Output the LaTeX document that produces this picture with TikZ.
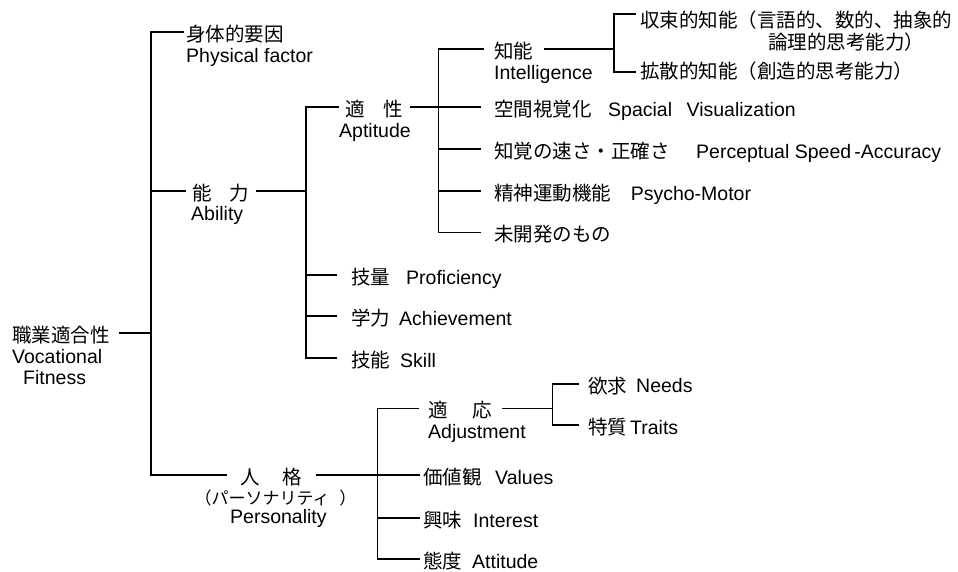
\documentclass[tikz,border=0pt]{standalone}
\usepackage{fontspec}
\setmainfont{Liberation Sans}
\newfontfamily\jpfont{Noto Sans CJK JP}
\newcommand{\tsz}{\fontsize{19.5}{23}\selectfont}
\begin{document}
\begin{tikzpicture}[x=1pt, y=-1pt,
    tree/.style={line width=1.6pt, line cap=rect},
    lbl/.style={anchor=west, inner xsep=4pt, inner ysep=0pt, text height=19pt, text depth=0pt, font=\jpfont\tsz},
    jp/.style={anchor=base west, inner sep=0pt, font=\jpfont\tsz},
    en/.style={anchor=base west, inner sep=0pt, font=\tsz}]
    \useasboundingbox (0,0) rectangle (958,571);
    % Bars of the tree
        \coordinate (A) at (151,0);
        \coordinate (B) at (306,0);
        \coordinate (C) at (438.4,0);
        \coordinate (D) at (614,0);
        \coordinate (E) at (377.5,0);
        \coordinate (F) at (552.3,0);
    % Root
        \node[lbl, inner xsep=10pt] (vf) at (2,333) {職業適合性};
        \node[en] (vf-en1) at (12,363) {Vocational};
        \node[en] (vf-en2) at (23,384) {Fitness};
    % First level
        \node[lbl, inner xsep=3pt] (phys) at (183,32) {身体的要因};
        \node[en] (phys-en) at (186,62) {Physical factor};
        \node[lbl, inner xsep=7pt] (abil) at (185,191) {能\hspace{18pt}力};
        \node[en] (abil-en) at (191,220) {Ability};
        \node[lbl, inner xsep=14pt] (pers) at (226,475) {人\hspace{23pt}格};
        \node[jp, anchor=base, font=\jpfont\fontsize{17}{20}\selectfont] (pers-kana) at (275.5,504.5) {（パーソナリティ\hspace{10pt}）};
        \node[en] (pers-en) at (230,523.3) {Personality};
    % Ability
        \node[lbl, inner xsep=7pt] (apt) at (338,107) {適\hspace{19pt}性};
        \node[en] (apt-en) at (339,137) {Aptitude};
        \node[lbl, inner xsep=15pt] (prof) at (336,275) {技量};
        \node[en] (prof-en) at (406,284) {Proficiency};
        \node[lbl, inner xsep=15pt] (ach) at (336,316) {学力};
        \node[en] (ach-en) at (399,325.3) {Achievement};
        \node[lbl, inner xsep=15pt] (skill) at (336,358) {技能};
        \node[en] (skill-en) at (400,367.3) {Skill};
    % Aptitude
        \node[lbl, inner xsep=11pt] (intel) at (483,49) {知能};
        \node[en] (intel-en) at (494,79) {Intelligence};
        \node[lbl, inner xsep=14pt] (spat) at (480,107) {空間視覚化};
        \node[en] (spat-en) at (608,116.5) {Spacial\hspace{14.5pt}Visualization};
        \node[lbl, inner xsep=14pt] (perc) at (480,149) {知覚の速さ・正確さ};
        \node[en] (perc-en) at (696,158.5) {Perceptual Speed\,-Accuracy};
        \node[lbl, inner xsep=14pt] (psy) at (480,191) {精神運動機能};
        \node[en] (psy-en) at (630.6,200.5) {Psycho-Motor};
        \node[lbl, inner xsep=14pt] (undev) at (480,232.3) {未開発のもの};
    % Intelligence
        \node[lbl, inner xsep=5pt, text height=27.8pt] (conv) at (635,14) {収束的知能（言語的、数的、抽象的};
        \node[jp] (conv-2) at (768,49) {論理的思考能力）};
        \node[lbl, inner xsep=5pt, text height=13pt] (div) at (635,71.7) {拡散的知能（創造的思考能力）};
    % Personality
        \node[lbl, inner xsep=10pt] (adj) at (418,408.3) {適\hspace{25pt}応};
        \node[en] (adj-en) at (428,438.3) {Adjustment};
        \node[lbl] (values) at (419,475) {価値観};
        \node[en] (values-en) at (495,484.5) {Values};
        \node[lbl] (interest) at (419,518) {興味};
        \node[en] (interest-en) at (473,527.5) {Interest};
        \node[lbl] (att) at (419,559) {態度};
        \node[en] (att-en) at (472,568.3) {Attitude};
    % Adjustment
        \node[lbl, inner xsep=10pt] (needs) at (578,384) {欲求};
        \node[en] (needs-en) at (636,392.5) {Needs};
        \node[lbl, inner xsep=10pt] (traits) at (578,425) {特質};
        \node[en] (traits-en) at (630,434.3) {Traits};
    % Connectors
        \draw[tree] (vf.east) -- (vf.east -| A);
        \draw[tree] (phys.west -| A) -- (pers.west -| A);
        \foreach \n in {phys,abil,pers}
            \draw[tree] (\n.west -| A) -- (\n.west);
        \draw[tree] (abil.east) -- (abil.east -| B);
        \draw[tree] (apt.west -| B) -- (skill.west -| B);
        \foreach \n in {apt,prof,ach,skill}
            \draw[tree] (\n.west -| B) -- (\n.west);
        \draw[tree] (apt.east) -- (apt.east -| C);
        \draw[tree] (intel.west -| C) -- (undev.west -| C);
        \foreach \n in {intel,spat,perc,psy,undev}
            \draw[tree] (\n.west -| C) -- (\n.west);
        \draw[tree] (intel.east) -- (intel.east -| D);
        \draw[tree] (conv.west -| D) -- (div.west -| D);
        \foreach \n in {conv,div}
            \draw[tree] (\n.west -| D) -- (\n.west);
        \draw[tree] (pers.east) -- (pers.east -| E);
        \draw[tree] (adj.west -| E) -- (att.west -| E);
        \foreach \n in {adj,values,interest,att}
            \draw[tree] (\n.west -| E) -- (\n.west);
        \draw[tree] (adj.east) -- (adj.east -| F);
        \draw[tree] (needs.west -| F) -- (traits.west -| F);
        \foreach \n in {needs,traits}
            \draw[tree] (\n.west -| F) -- (\n.west);
\end{tikzpicture}
\end{document}
